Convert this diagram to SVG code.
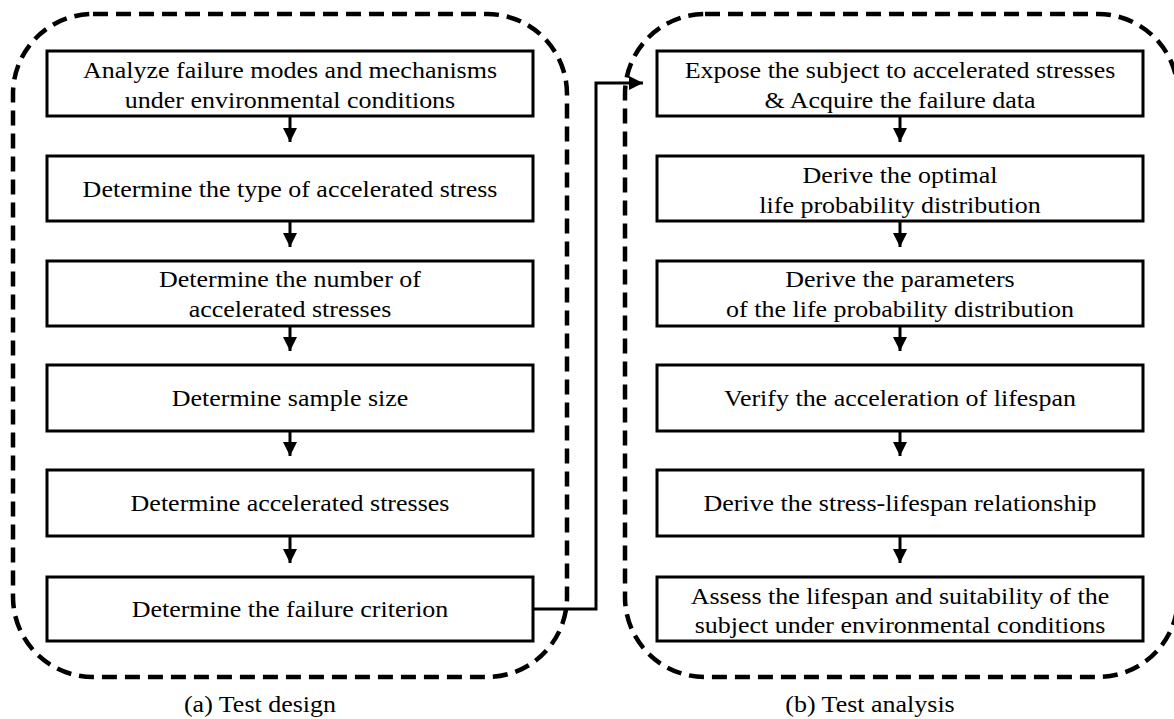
<svg xmlns="http://www.w3.org/2000/svg" width="1174" height="719" viewBox="0 0 1174 719">
<style>
.frame{fill:none;stroke:#000;stroke-width:4.5;stroke-dasharray:15 8}
.box{fill:#fff;stroke:#000;stroke-width:3}
.t{font-family:"Liberation Serif","Times New Roman",serif;font-size:23px;fill:#000;text-anchor:middle}
.c{fill:none;stroke:#000;stroke-width:3}
</style>
<defs>
<marker id="ahb" markerWidth="14" markerHeight="14" refX="14" refY="7" orient="auto" markerUnits="userSpaceOnUse" viewBox="0 0 14 14">
<path d="M0,0 L14,7 L0,14 Z" fill="#000"/>
</marker>
</defs>
<g id="frame-a"><rect class="frame" x="13" y="14" width="554" height="663" rx="80" ry="80"/></g>
<g id="frame-b"><rect class="frame" x="625" y="14" width="553" height="663" rx="80" ry="80"/></g>
<g id="connectors">
<path class="c" d="M290,116 V142" marker-end="url(#ahb)"/>
<path class="c" d="M290,221 V247" marker-end="url(#ahb)"/>
<path class="c" d="M290,326 V351" marker-end="url(#ahb)"/>
<path class="c" d="M290,431 V456" marker-end="url(#ahb)"/>
<path class="c" d="M290,536 V563" marker-end="url(#ahb)"/>
<path class="c" d="M900,116 V142" marker-end="url(#ahb)"/>
<path class="c" d="M900,221 V247" marker-end="url(#ahb)"/>
<path class="c" d="M900,326 V351" marker-end="url(#ahb)"/>
<path class="c" d="M900,431 V456" marker-end="url(#ahb)"/>
<path class="c" d="M900,536 V563" marker-end="url(#ahb)"/>
<path class="c" d="M533,609 H596 V83 H643" marker-end="url(#ahb)"/>
</g>
<g id="a1"><rect class="box" x="47" y="51" width="486" height="65"/><text class="t" transform="translate(290 0) scale(1.13 1)" x="0" y="78">Analyze failure modes and mechanisms</text><text class="t" transform="translate(290 0) scale(1.13 1)" x="0" y="108">under environmental conditions</text></g>
<g id="a2"><rect class="box" x="47" y="156" width="486" height="65"/><text class="t" transform="translate(290 0) scale(1.13 1)" x="0" y="197">Determine the type of accelerated stress</text></g>
<g id="a3"><rect class="box" x="47" y="261" width="486" height="65"/><text class="t" transform="translate(290 0) scale(1.13 1)" x="0" y="287">Determine the number of</text><text class="t" transform="translate(290 0) scale(1.13 1)" x="0" y="317">accelerated stresses</text></g>
<g id="a4"><rect class="box" x="47" y="365" width="486" height="66"/><text class="t" transform="translate(290 0) scale(1.13 1)" x="0" y="406">Determine sample size</text></g>
<g id="a5"><rect class="box" x="47" y="470" width="486" height="66"/><text class="t" transform="translate(290 0) scale(1.13 1)" x="0" y="511">Determine accelerated stresses</text></g>
<g id="a6"><rect class="box" x="47" y="577" width="486" height="64"/><text class="t" transform="translate(290 0) scale(1.13 1)" x="0" y="617">Determine the failure criterion</text></g>
<g id="b1"><rect class="box" x="657" y="51" width="486" height="65"/><text class="t" transform="translate(900 0) scale(1.13 1)" x="0" y="78">Expose the subject to accelerated stresses</text><text class="t" transform="translate(900 0) scale(1.13 1)" x="0" y="108">&amp; Acquire the failure data</text></g>
<g id="b2"><rect class="box" x="657" y="156" width="486" height="65"/><text class="t" transform="translate(900 0) scale(1.13 1)" x="0" y="183">Derive the optimal</text><text class="t" transform="translate(900 0) scale(1.13 1)" x="0" y="213">life probability distribution</text></g>
<g id="b3"><rect class="box" x="657" y="261" width="486" height="65"/><text class="t" transform="translate(900 0) scale(1.13 1)" x="0" y="287">Derive the parameters</text><text class="t" transform="translate(900 0) scale(1.13 1)" x="0" y="317">of the life probability distribution</text></g>
<g id="b4"><rect class="box" x="657" y="365" width="486" height="66"/><text class="t" transform="translate(900 0) scale(1.13 1)" x="0" y="406">Verify the acceleration of lifespan</text></g>
<g id="b5"><rect class="box" x="657" y="470" width="486" height="66"/><text class="t" transform="translate(900 0) scale(1.13 1)" x="0" y="511">Derive the stress-lifespan relationship</text></g>
<g id="b6"><rect class="box" x="657" y="577" width="486" height="64"/><text class="t" transform="translate(900 0) scale(1.13 1)" x="0" y="604">Assess the lifespan and suitability of the</text><text class="t" transform="translate(900 0) scale(1.13 1)" x="0" y="633">subject under environmental conditions</text></g>
<g id="label-a"><text class="t" transform="translate(260 0) scale(1.13 1)" x="0" y="712">(a) Test design</text></g>
<g id="label-b"><text class="t" transform="translate(870 0) scale(1.13 1)" x="0" y="712">(b) Test analysis</text></g>
</svg>
